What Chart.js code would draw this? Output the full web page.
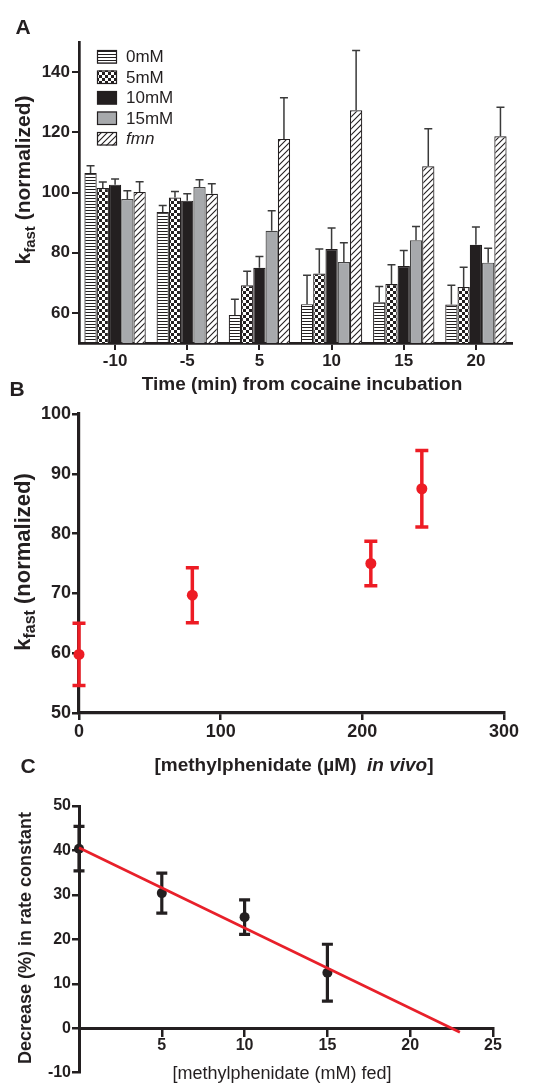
<!DOCTYPE html>
<html><head><meta charset="utf-8">
<script src="https://cdn.jsdelivr.net/npm/chart.js@4.4.1/dist/chart.umd.min.js"></script>
<style>
html,body{margin:0;padding:0;background:#fff;width:548px;height:1084px;overflow:hidden}
canvas{position:absolute;left:0;display:block}
</style></head><body>
<canvas id="cA" width="548" height="400" style="top:0"></canvas>
<canvas id="cB" width="548" height="405" style="top:370px"></canvas>
<canvas id="cC" width="548" height="334" style="top:750px"></canvas>
<script>
// ---------- Panel A data ----------
const timeLabels = ['-10', '-5', '5', '10', '15', '20'];
const seriesNames = ['0mM', '5mM', '10mM', '15mM', 'fmn'];
const val0mM  = [106.5, 93.5, 59.3, 62.9, 63.5, 62.8];
const err0mM  = [2.4, 2.2, 5.2, 9.6, 5.3, 6.4];
const val5mM  = [101.5, 98.3, 69.2, 73.1, 69.6, 68.6];
const err5mM  = [2.0, 2.0, 4.6, 8.1, 6.4, 6.6];
const val10mM = [102.6, 97.3, 75.0, 81.2, 75.6, 82.6];
const err10mM = [1.9, 2.3, 3.7, 7.0, 5.1, 5.9];
const val15mM = [97.8, 101.8, 87.3, 76.9, 84.1, 76.7];
const err15mM = [2.8, 2.4, 6.6, 6.4, 4.6, 4.8];
const valFmn  = [100.2, 99.6, 117.8, 127.3, 108.7, 118.7];
const errFmn  = [3.4, 3.3, 13.7, 19.9, 12.5, 9.6];
const yTicksA = [60, 80, 100, 120, 140];

// ---------- Panel B data ----------
const mphInVivo = [0, 80, 206, 242];
const kfastB    = [59.8, 69.7, 75.0, 87.5];
const kfastErrB = [5.2, 4.6, 3.7, 6.4];

// ---------- Panel C data ----------
const mphFed    = [0, 5, 10, 15];
const decreaseC = [40.4, 30.4, 25.0, 12.5];
const decErrC   = [5.0, 4.5, 3.9, 6.4];
const fitX      = [0, 23];
const fitY      = [40.6, -0.9];
const xTicksC   = [5, 10, 15, 20, 25];

const FONT = '"Liberation Sans", Arial, Helvetica, sans-serif';
const INK = '#231f20';
const RED = '#ed1c24';

function pattern(kind) {
  const c = document.createElement('canvas');
  const g = c.getContext('2d');
  if (kind === 'h') {
    c.width = 4; c.height = 3;
    g.fillStyle = '#fff'; g.fillRect(0, 0, 4, 3);
    g.fillStyle = INK; g.fillRect(0, 0, 4, 1);
  } else if (kind === 'check') {
    c.width = 6; c.height = 6;
    g.fillStyle = '#fff'; g.fillRect(0, 0, 6, 6);
    g.fillStyle = INK; g.fillRect(0, 0, 3, 3); g.fillRect(3, 3, 3, 3);
  } else {
    c.width = 6; c.height = 6;
    g.fillStyle = '#fff'; g.fillRect(0, 0, 6, 6);
    g.strokeStyle = INK; g.lineWidth = 1.1;
    g.beginPath();
    g.moveTo(-1, 7); g.lineTo(7, -1);
    g.moveTo(-1, 1); g.lineTo(1, -1);
    g.moveTo(5, 7); g.lineTo(7, 5);
    g.stroke();
  }
  return document.createElement('canvas').getContext('2d').createPattern(c, 'repeat');
}

function drawRich(ctx, parts, cx, cy, rot, size) {
  ctx.save();
  ctx.translate(cx, cy);
  if (rot) ctx.rotate(rot);
  ctx.textBaseline = 'alphabetic';
  ctx.textAlign = 'left';
  ctx.fillStyle = INK;
  let total = 0;
  parts.forEach(p => { ctx.font = p.font; p.w = ctx.measureText(p.t).width; total += p.w; });
  let x = -total / 2;
  const base = size * 0.36;
  parts.forEach(p => { ctx.font = p.font; ctx.fillText(p.t, x, base + (p.dy || 0)); x += p.w; });
  ctx.restore();
}

// error bars drawn through the library's scales
const errorBars = {
  id: 'errorBars',
  beforeDatasetsDraw(chart) { draw(chart, 'before'); },
  afterDatasetsDraw(chart) { draw(chart, 'after'); }
};
function draw(chart, when) {
  const ctx = chart.ctx;
  chart.data.datasets.forEach((ds, di) => {
    if (!ds.errors || ds.errWhen !== when) return;
    const meta = chart.getDatasetMeta(di);
    const ys = chart.scales[meta.yAxisID];
    ctx.save();
    ctx.strokeStyle = ds.errColor;
    ctx.lineWidth = ds.errWidth;
    meta.data.forEach((el, i) => {
      const raw = ds.data[i];
      const v = typeof raw === 'object' ? raw.y : raw;
      const e = ds.errors[i];
      const x = el.x;
      const hi = ys.getPixelForValue(v + e);
      const lo = ds.errBoth ? ys.getPixelForValue(v - e) : el.y;
      const c = ds.errCap;
      ctx.beginPath();
      ctx.moveTo(x, lo); ctx.lineTo(x, hi);
      ctx.moveTo(x - c, hi); ctx.lineTo(x + c, hi);
      if (ds.errBoth) { ctx.moveTo(x - c, lo); ctx.lineTo(x + c, lo); }
      ctx.stroke();
    });
    ctx.restore();
  });
}

const textPlugin = {
  id: 'texts',
  afterDraw(chart, args, opts) {
    const ctx = chart.ctx;
    (opts.items || []).forEach(it => drawRich(ctx, it.parts, it.x, it.y, it.rot || 0, it.size));
    if (opts.legend) {
      const ca = chart.chartArea;
      chart.data.datasets.forEach((ds, i) => {
        const bx = ca.left + 18, by = ca.top + 8 + i * 20.5;
        ctx.save();
        ctx.fillStyle = ds.backgroundColor;
        ctx.fillRect(bx, by, 20, 13.5);
        ctx.strokeStyle = INK; ctx.lineWidth = 1.2;
        ctx.strokeRect(bx + 0.5, by + 0.5, 19, 12.5);
        ctx.fillStyle = INK;
        ctx.font = (ds.label === 'fmn' ? 'italic ' : '') + '17px ' + FONT;
        ctx.textBaseline = 'middle';
        ctx.fillText(ds.label, bx + 29, by + 7.5);
        ctx.restore();
      });
    }
  }
};

const B = (s) => 'bold ' + s + 'px ' + FONT;
const BI = (s) => 'italic bold ' + s + 'px ' + FONT;
const R = (s) => s + 'px ' + FONT;

function kfastTitle(x, y, s) {
  return { parts: [ { t: 'k', font: B(s) }, { t: 'fast', font: B(Math.round(s * 0.72)), dy: 5 }, { t: ' (normalized)', font: B(s) } ],
           x: x, y: y, rot: -Math.PI / 2, size: s };
}

// ---------- Chart A ----------
const fillsA = [pattern('h'), pattern('check'), INK, '#a7a9ac', pattern('diag')];
const valsA = [val0mM, val5mM, val10mM, val15mM, valFmn];
const errsA = [err0mM, err5mM, err10mM, err15mM, errFmn];

new Chart(document.getElementById('cA'), {
  type: 'bar',
  data: {
    labels: timeLabels,
    datasets: seriesNames.map((name, k) => ({
      label: name, data: valsA[k], errors: errsA[k], errWhen: 'after', errColor: '#3a3a3a', errWidth: 1.5, errCap: 4,
      backgroundColor: fillsA[k], borderColor: k === 3 ? '#444' : INK, borderWidth: 1.2, borderSkipped: false,
      categoryPercentage: 0.85, barPercentage: 1.0
    }))
  },
  options: {
    responsive: false, animation: false, devicePixelRatio: 1,
    layout: { padding: { left: 0, top: 42, right: 36, bottom: 0 } },
    plugins: {
      legend: { display: false }, tooltip: { enabled: false },
      texts: {
        legend: true,
        items: [
          { parts: [{ t: 'A', font: B(21) }], x: 23, y: 26, size: 21 },
          kfastTitle(22, 180, 21),
          { parts: [{ t: 'Time (min) from cocaine incubation', font: B(19) }], x: 302, y: 383, size: 19 }
        ]
      }
    },
    scales: {
      x: {
        offset: true,
        afterFit: s => { s.height = 57; },
        grid: { display: true, offset: false, drawOnChartArea: false, tickLength: 7, lineWidth: 2, color: INK },
        border: { color: INK, width: 2.7 },
        ticks: { font: { family: FONT, size: 17, weight: 'bold' }, color: INK, padding: 1, maxRotation: 0 }
      },
      y: {
        min: 50, max: 150,
        afterBuildTicks: s => { s.ticks = yTicksA.map(v => ({ value: v })); },
        afterFit: s => { s.width = 79; },
        grid: { drawOnChartArea: false, tickLength: 7, lineWidth: 2, color: INK },
        border: { color: INK, width: 2.7 },
        ticks: { font: { family: FONT, size: 17, weight: 'bold' }, color: INK, padding: 2 }
      }
    }
  },
  plugins: [errorBars, textPlugin]
});

// ---------- Chart B ----------
new Chart(document.getElementById('cB'), {
  type: 'scatter',
  data: {
    datasets: [{
      data: mphInVivo.map((x, i) => ({ x: x, y: kfastB[i] })),
      errors: kfastErrB, errBoth: true, errWhen: 'before', errColor: RED, errWidth: 3.5, errCap: 6.5,
      pointRadius: 5.5, pointBackgroundColor: RED, pointBorderWidth: 0, clip: false
    }]
  },
  options: {
    responsive: false, animation: false, devicePixelRatio: 1,
    layout: { padding: { left: 0, top: 44, right: 44, bottom: 0 } },
    plugins: {
      legend: { display: false }, tooltip: { enabled: false },
      texts: {
        items: [
          { parts: [{ t: 'B', font: B(21) }], x: 17, y: 18, size: 21 },
          kfastTitle(22, 192, 22),
          { parts: [ { t: '[methylphenidate (\u00b5M)  ', font: B(19) }, { t: 'in vivo', font: BI(19) }, { t: ']', font: B(19) } ],
            x: 294, y: 394, size: 19 }
        ]
      }
    },
    scales: {
      x: {
        type: 'linear', min: 0, max: 300,
        afterFit: s => { s.height = 62; },
        ticks: { stepSize: 100, font: { family: FONT, size: 18, weight: 'bold' }, color: INK, padding: 1 },
        grid: { drawOnChartArea: false, tickLength: 7, lineWidth: 2.5, color: INK },
        border: { color: INK, width: 3.2 }
      },
      y: {
        min: 50, max: 100,
        afterFit: s => { s.width = 79; },
        ticks: { stepSize: 10, font: { family: FONT, size: 18, weight: 'bold' }, color: INK, padding: 1 },
        grid: { drawOnChartArea: false, tickLength: 7, lineWidth: 2.5, color: INK },
        border: { color: INK, width: 3.2 }
      }
    }
  },
  plugins: [errorBars, textPlugin]
});

// ---------- Chart C ----------
new Chart(document.getElementById('cC'), {
  type: 'scatter',
  data: {
    datasets: [
      {
        type: 'line', order: 0,
        data: fitX.map((x, i) => ({ x: x, y: fitY[i] })),
        borderColor: '#e8202a', borderWidth: 2.6, pointRadius: 0, fill: false, clip: false
      },
      {
        order: 1,
        data: mphFed.map((x, i) => ({ x: x, y: decreaseC[i] })),
        errors: decErrC, errBoth: true, errWhen: 'before', errColor: INK, errWidth: 3.2, errCap: 5.5,
        pointRadius: 5, pointBackgroundColor: INK, pointBorderWidth: 0, clip: false
      }
    ]
  },
  options: {
    responsive: false, animation: false, devicePixelRatio: 1,
    layout: { padding: { left: 0, top: 56, right: 55, bottom: 11.3 } },
    plugins: {
      legend: { display: false }, tooltip: { enabled: false },
      texts: {
        items: [
          { parts: [{ t: 'C', font: B(21) }], x: 28, y: 15, size: 21 },
          { parts: [{ t: 'Decrease (%) in rate constant', font: B(18) }], x: 25, y: 188, rot: -Math.PI / 2, size: 18 },
          { parts: [{ t: '[methylphenidate (mM) fed]', font: R(18) }], x: 282, y: 323, size: 18 }
        ]
      }
    },
    scales: {
      x: {
        type: 'linear', min: 0, max: 25, position: { y: 0 },
        afterBuildTicks: s => { s.ticks = xTicksC.map(v => ({ value: v })); },
        ticks: { font: { family: FONT, size: 16, weight: 'bold' }, color: INK, padding: 1 },
        grid: { drawOnChartArea: false, tickLength: 7, lineWidth: 2.5, color: INK },
        border: { color: INK, width: 3 }
      },
      y: {
        min: -10, max: 50,
        afterFit: s => { s.width = 79; },
        ticks: { stepSize: 10, font: { family: FONT, size: 16, weight: 'bold' }, color: INK, padding: 1 },
        grid: { drawOnChartArea: false, tickLength: 7, lineWidth: 2.5, color: INK },
        border: { color: INK, width: 3 }
      }
    }
  },
  plugins: [errorBars, textPlugin]
});
</script>
</body></html>
